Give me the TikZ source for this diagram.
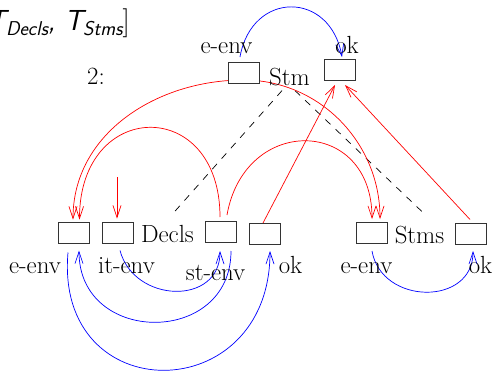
\documentclass[tikz,border=0pt]{standalone}
\usetikzlibrary{arrows.meta}
\pgfdeclarelayer{background}
\pgfsetlayers{background,main}
\begin{document}
\begin{tikzpicture}[x=1pt,y=1pt,
  box/.style={draw=black!80, line width=1pt, fill=white, minimum width=31pt, minimum height=21pt, inner sep=0pt},
  lbl/.style={inner sep=0pt, anchor=base, font=\fontsize{24.8}{30}\selectfont},
  tip/.style={-{Straight Barb[length=12pt,width=8pt,line width=0.7pt]}},
  rarr/.style={draw=red, line width=0.7pt, tip},
  barr/.style={draw=blue, line width=0.7pt, tip},
  dsh/.style={draw=black, line width=0.7pt, dash pattern=on 7pt off 7pt}]
\useasboundingbox (0,0) rectangle (496,-370);
\clip (0,0) rectangle (496,-370);
% title
\node[inner sep=0pt, anchor=base east, font=\fontsize{29}{34}\selectfont] (title) at (130,-30)
  {\sffamily\itshape T\raisebox{-5pt}{\fontsize{20}{22}\selectfont Decls}, T\raisebox{-5pt}{\fontsize{20}{22}\selectfont Stms}\upshape\rmfamily]};
\node[lbl] (num) at (96,-84) {2:};
% boxes
\node[box] (stmE) at (243.5,-73) {};
\node[box] (ok) at (340,-70) {};
\node[box] (d1) at (73.5,-232.5) {};
\node[box] (d2) at (118,-232.5) {};
\node[box] (d3) at (221,-232) {};
\node[box] (d4) at (265,-234) {};
\node[box] (d5) at (371.5,-233) {};
\node[box] (d6) at (471,-233.5) {};
% texts
\node[lbl] (lstmE) at (226.5,-53) {e-env};
\node[lbl] (lok) at (347,-53) {ok};
\node[lbl] (stm) at (289.5,-85) {Stm};
\node[lbl] (decls) at (167.5,-242) {Decls};
\node[lbl] (stms) at (419.5,-243) {Stms};
\node[lbl] (l1) at (35,-273) {e-env};
\node[lbl] (l2) at (126.5,-273) {it-env};
\node[lbl] (l3) at (215.5,-280) {st-env};
\node[lbl] (l4) at (290.5,-273) {ok};
\node[lbl] (l5) at (366.5,-273) {e-env};
\node[lbl] (l6) at (480.5,-273) {ok};
\coordinate (itin) at (117,-177);
\begin{pgfonlayer}{background}
% dashed tree lines
\draw[dsh] ([xshift=-7.5pt,yshift=-5pt]stm.south) -- ([xshift=4.5pt,yshift=10pt]decls.north);
\draw[dsh] ([xshift=5.5pt,yshift=-5pt]stm.south) -- ([xshift=5.5pt,yshift=11pt]stms.north);
% red
\draw[rarr] ([yshift=-7pt]stmE.center) to[out=180,in=90] ([xshift=-0.5pt,yshift=2pt]d1.north);
\draw[rarr] ([xshift=-1pt,yshift=4pt]d3.north) to[out=90,in=90,looseness=2.2] ([xshift=6pt,yshift=2pt]d1.north);
\draw[rarr] ([xshift=6pt,yshift=6pt]d3.north) to[out=80,in=90,looseness=1.8] ([xshift=0.5pt,yshift=3pt]d5.north);
\draw[rarr] ([yshift=-7pt]stmE.center) to[out=0,in=90] ([xshift=8.5pt,yshift=3pt]d5.north);
\draw[rarr] ([xshift=-2pt]d4.north) -- ([xshift=-5pt,yshift=-4pt]ok.south);
\draw[rarr] ([xshift=-1pt,yshift=3pt]d6.north) -- ([xshift=5pt,yshift=-4pt]ok.south);
\draw[rarr] (itin) -- ([xshift=-1pt,yshift=3pt]d2.north);
% blue
\draw[barr] ([xshift=-3.5pt,yshift=5pt]stmE.north) to[out=80,in=100,looseness=1.7] ([xshift=2pt,yshift=2pt]ok.north);
\draw[barr] ([xshift=2pt,yshift=-7pt]d2.south) to[out=-75,in=-90,looseness=1.4] ([xshift=-1pt,yshift=-8pt]d3.south);
\draw[barr] ([xshift=10pt,yshift=-8pt]d3.south) to[out=-90,in=-90,looseness=1.6] ([xshift=5.5pt,yshift=-7pt]d1.south);
\draw[barr] ([xshift=-5.5pt,yshift=-9pt]d1.south) to[out=-95,in=-90,looseness=2.0] ([xshift=5pt,yshift=-6pt]d4.south);
\draw[barr] ([xshift=0.5pt,yshift=-7pt]d5.south) to[out=-80,in=-90,looseness=1.4] ([xshift=2pt,yshift=-6.5pt]d6.south);
\end{pgfonlayer}
\end{tikzpicture}
\end{document}
